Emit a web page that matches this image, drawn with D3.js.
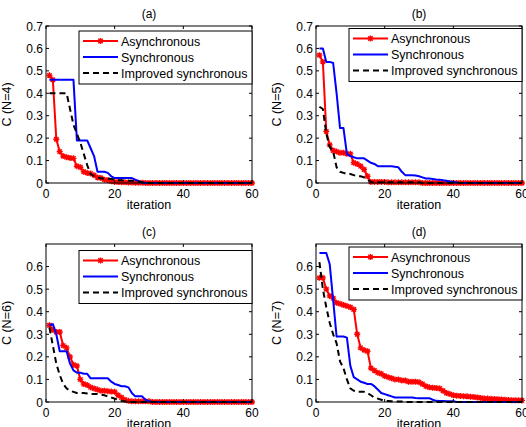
<!DOCTYPE html>
<html>
<head>
<meta charset="utf-8">
<script src="https://cdn.jsdelivr.net/npm/d3@7"></script>
<style>
  body { margin: 0; background: #fff; }
  svg text { font-family: "Liberation Sans", Arial, Helvetica, sans-serif; fill: #000; }
</style>
</head>
<body>
<div id="chart"></div>
<script>
// iteration index on the x axis
const iterations = d3.range(1, 61);

const legendLabels = ['Asynchronous', 'Synchronous', 'Improved synchronous'];
const panelTitles = ['(a)', '(b)', '(c)', '(d)'];
const yLabels = ['C (N=4)', 'C (N=5)', 'C (N=6)', 'C (N=7)'];
const xTicks = [0, 20, 40, 60];
const yTicksTop = [0, 0.1, 0.2, 0.3, 0.4, 0.5, 0.6, 0.7];
const yTicksBottom = [0, 0.1, 0.2, 0.3, 0.4, 0.5, 0.6];

// (a) N=4
const asyncA = [0.48,0.46,0.195,0.14,0.12,0.115,0.112,0.11,0.075,0.07,
  0.05,0.045,0.042,0.035,0.025,0.022,0.015,0.012,0.008,0.005,
  0.004,0.003,0.003,0.002,0.002,0.001,0.001,0.001,0,0,
  0,0,0,0,0,0,0,0,0,0, 0,0,0,0,0,0,0,0,0,0, 0,0,0,0,0,0,0,0,0,0];
const syncA = [0.46,0.46,0.46,0.46,0.46,0.46,0.46,0.46,0.19,0.19,
  0.19,0.19,0.155,0.12,0.05,0.05,0.05,0.045,0.03,0.022,
  0.022,0.022,0.022,0.022,0.022,0.015,0.008,0.002,0,0,
  0,0,0,0,0,0,0,0,0,0, 0,0,0,0,0,0,0,0,0,0, 0,0,0,0,0,0,0,0,0,0];
const improvedA = [0.4,0.4,0.4,0.4,0.4,0.4,0.33,0.26,0.22,0.18,
  0.13,0.08,0.04,0.03,0.025,0.02,0.02,0.02,0.018,0.015,
  0.012,0.012,0.01,0.01,0.01,0.008,0.006,0.003,0.001,0,
  0,0,0,0,0,0,0,0,0,0, 0,0,0,0,0,0,0,0,0,0, 0,0,0,0,0,0,0,0,0,0];

// (b) N=5
const asyncB = [0.57,0.54,0.23,0.17,0.145,0.14,0.135,0.135,0.13,0.13,
  0.09,0.085,0.075,0.06,0.03,0.005,0.005,0.005,0.005,0.005,
  0.003,0.003,0.003,0.003,0.003,0.003,0.003,0.003,0.003,0.003,
  0,0,0,0,0,0,0,0,0,0, 0,0,0,0,0,0,0,0,0,0, 0,0,0,0,0,0,0,0,0,0];
const syncB = [0.6,0.6,0.54,0.54,0.535,0.4,0.245,0.245,0.13,0.12,
  0.115,0.11,0.11,0.11,0.1,0.09,0.085,0.075,0.075,0.075,
  0.075,0.075,0.072,0.07,0.05,0.035,0.035,0.035,0.033,0.03,
  0.025,0.02,0.02,0.018,0.016,0.015,0.012,0.01,0.007,0.005,
  0.002,0,0,0,0,0,0,0,0,0, 0,0,0,0,0,0,0,0,0,0];
const improvedB = [0.34,0.33,0.22,0.16,0.14,0.07,0.05,0.045,0.04,0.04,
  0.035,0.03,0.03,0.025,0.015,0.005,0.003,0.003,0.003,0.003,
  0.003,0.003,0.003,0.003,0.003,0.003,0.003,0.003,0.003,0.003,
  0,0,0,0,0,0,0,0,0,0, 0,0,0,0,0,0,0,0,0,0, 0,0,0,0,0,0,0,0,0,0];

// (c) N=6
const asyncC = [0.34,0.32,0.31,0.31,0.25,0.24,0.2,0.165,0.16,0.1,
  0.08,0.075,0.065,0.06,0.055,0.05,0.05,0.048,0.046,0.045,
  0.03,0.02,0.01,0.005,0.003,0.003,0.003,0.003,0.003,0.003,
  0,0,0,0,0,0,0,0,0,0, 0,0,0,0,0,0,0,0,0,0, 0,0,0,0,0,0,0,0,0,0];
const syncC = [0.34,0.345,0.3,0.225,0.225,0.225,0.17,0.14,0.13,0.13,
  0.125,0.125,0.105,0.105,0.105,0.105,0.105,0.105,0.09,0.08,
  0.075,0.07,0.07,0.065,0.04,0.025,0.025,0.025,0.01,0.003,
  0,0,0,0,0,0,0,0,0,0, 0,0,0,0,0,0,0,0,0,0, 0,0,0,0,0,0,0,0,0,0];
const improvedC = [0.33,0.25,0.17,0.12,0.08,0.06,0.05,0.045,0.04,0.04,
  0.04,0.038,0.036,0.035,0.035,0.033,0.03,0.025,0.02,0.015,
  0.01,0.005,0.003,0.002,0,0,0,0,0,0,
  0,0,0,0,0,0,0,0,0,0, 0,0,0,0,0,0,0,0,0,0, 0,0,0,0,0,0,0,0,0,0];

// (d) N=7
const asyncD = [0.55,0.55,0.5,0.47,0.46,0.44,0.435,0.43,0.425,0.42,
  0.41,0.3,0.24,0.23,0.225,0.15,0.14,0.13,0.125,0.115,
  0.11,0.105,0.1,0.1,0.095,0.095,0.09,0.09,0.09,0.088,
  0.08,0.07,0.065,0.063,0.062,0.06,0.05,0.04,0.035,0.03,
  0.028,0.027,0.026,0.025,0.023,0.022,0.02,0.018,0.016,0.015,
  0.014,0.013,0.012,0.011,0.01,0.009,0.008,0.008,0.008,0.007];
const syncD = [0.66,0.66,0.66,0.61,0.45,0.29,0.29,0.29,0.285,0.16,
  0.11,0.1,0.09,0.085,0.08,0.08,0.07,0.055,0.04,0.035,
  0.03,0.025,0.02,0.02,0.02,0.02,0.02,0.02,0.018,0.017,
  0.017,0.017,0.017,0.01,0.005,0.004,0.004,0.003,0.003,0.003,
  0,0,0,0,0,0,0,0,0,0, 0,0,0,0,0,0,0,0,0,0];
const improvedD = [0.62,0.5,0.42,0.35,0.3,0.26,0.18,0.15,0.1,0.06,
  0.05,0.045,0.045,0.045,0.04,0.03,0.02,0.015,0.01,0.005,
  0.004,0.003,0.003,0.002,0.002,0,0,0,0,0,
  0,0,0,0,0,0,0,0,0,0, 0,0,0,0,0,0,0,0,0,0, 0,0,0,0,0,0,0,0,0,0];

const seriesByPanel = [
  [asyncA, syncA, improvedA],
  [asyncB, syncB, improvedB],
  [asyncC, syncC, improvedC],
  [asyncD, syncD, improvedD]
];

const w = 526, h = 427;

// panel boxes in pixels
const panels = [
  { left: 46, right: 252, top: 26, bottom: 183, yTicks: yTicksTop, legDy: 5 },
  { left: 316, right: 522, top: 26, bottom: 183, yTicks: yTicksTop, legDy: 2.5 },
  { left: 46, right: 252, top: 244, bottom: 402, yTicks: yTicksBottom, legDy: 6.5 },
  { left: 316, right: 522, top: 244, bottom: 402, yTicks: yTicksBottom, legDy: 3 }
];

const styles = [
  { color: '#ff0000', dash: null, width: 2, marker: true },
  { color: '#0000ff', dash: null, width: 2, marker: false },
  { color: '#000000', dash: '6,4', width: 2, marker: false }
];

const star = 'M-3,0H3M0,-3V3M-2.2,-2.2L2.2,2.2M-2.2,2.2L2.2,-2.2';

let svg = d3.select('#chart').append('svg')
  .attr('width', w)
  .attr('height', h)
  .style('display', 'block');

panels.forEach(function(p, k) {
  let x = d3.scaleLinear().domain([0, 60]).range([p.left, p.right]);
  let y = d3.scaleLinear().domain([0, 0.7]).range([p.bottom, p.top]);
  let g = svg.append('g');

  // curves
  seriesByPanel[k].forEach(function(vals, s) {
    let st = styles[s];
    let line = d3.line()
      .x(function(d, i) { return x(iterations[i]); })
      .y(function(d) { return y(d); });
    g.append('path')
      .attr('d', line(vals))
      .attr('fill', 'none')
      .attr('stroke', st.color)
      .attr('stroke-width', st.width)
      .attr('stroke-dasharray', st.dash)
      .attr('stroke-linejoin', 'round');
    if (st.marker) {
      g.selectAll(null).data(vals).enter().append('path')
        .attr('d', star)
        .attr('transform', function(d, i) { return `translate(${x(iterations[i])},${y(d)})`; })
        .attr('stroke', st.color)
        .attr('stroke-width', 1.4)
        .attr('fill', 'none');
    }
  });

  // box
  g.append('rect')
    .attr('x', p.left).attr('y', p.top)
    .attr('width', p.right - p.left).attr('height', p.bottom - p.top)
    .attr('fill', 'none').attr('stroke', '#000').attr('stroke-width', 1);

  // inward ticks on all four sides
  xTicks.forEach(function(t) {
    g.append('line').attr('x1', x(t)).attr('x2', x(t)).attr('y1', p.bottom).attr('y2', p.bottom - 3)
      .attr('stroke', '#000');
    g.append('line').attr('x1', x(t)).attr('x2', x(t)).attr('y1', p.top).attr('y2', p.top + 3)
      .attr('stroke', '#000');
    g.append('text').attr('x', x(t)).attr('y', p.bottom + 15)
      .attr('text-anchor', 'middle').attr('font-size', 12).text(t);
  });
  p.yTicks.forEach(function(t) {
    g.append('line').attr('x1', p.left).attr('x2', p.left + 3).attr('y1', y(t)).attr('y2', y(t))
      .attr('stroke', '#000');
    g.append('line').attr('x1', p.right).attr('x2', p.right - 3).attr('y1', y(t)).attr('y2', y(t))
      .attr('stroke', '#000');
    g.append('text').attr('x', p.left - 3).attr('y', y(t) + 4.5)
      .attr('text-anchor', 'end').attr('font-size', 12).text(t);
  });

  // labels
  g.append('text').attr('x', (p.left + p.right) / 2).attr('y', p.top - 8)
    .attr('text-anchor', 'middle').attr('font-size', 12).text(panelTitles[k]);
  g.append('text').attr('x', (p.left + p.right) / 2).attr('y', p.bottom + 26)
    .attr('text-anchor', 'middle').attr('font-size', 12.5).text('iteration');
  g.append('text')
    .attr('transform', `translate(${p.left - 35},${(p.top + p.bottom) / 2}) rotate(-90)`)
    .attr('text-anchor', 'middle').attr('font-size', 12.5).text(yLabels[k]);

  // legend
  let lw = 173, lh = 53;
  let lx = p.right - lw, ly = p.top + p.legDy;
  let leg = g.append('g').attr('transform', `translate(${lx},${ly})`);
  leg.append('rect').attr('width', lw).attr('height', lh)
    .attr('fill', '#fff').attr('stroke', '#000').attr('stroke-width', 1);
  legendLabels.forEach(function(lab, s) {
    let st = styles[s];
    let cy = 10 + s * 16;
    leg.append('line').attr('x1', 4).attr('x2', 39).attr('y1', cy).attr('y2', cy)
      .attr('stroke', st.color).attr('stroke-width', st.width).attr('stroke-dasharray', st.dash);
    if (st.marker) {
      leg.append('path').attr('d', star).attr('transform', `translate(21.5,${cy})`)
        .attr('stroke', st.color).attr('stroke-width', 1.4).attr('fill', 'none');
    }
    leg.append('text').attr('x', 42).attr('y', cy + 4.5).attr('font-size', 12.5).text(lab);
  });
});
</script>
</body>
</html>
